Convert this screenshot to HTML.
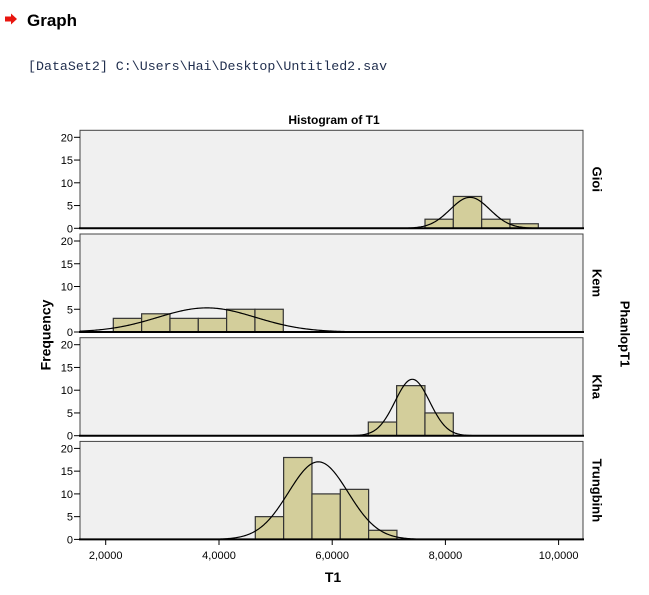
<!DOCTYPE html>
<html><head><meta charset="utf-8"><style>
html,body{margin:0;padding:0;background:#fff;width:649px;height:595px;overflow:hidden;font-family:"Liberation Sans",Arial,sans-serif}
</style></head><body>
<svg width="649" height="595" viewBox="0 0 649 595" xmlns="http://www.w3.org/2000/svg" style="position:absolute;left:0;top:0">
<polygon points="5,16.5 11,16.5 11,13.5 17,19 11,24.5 11,21.5 5,21.5" fill="#e8150f"/>
<text x="27" y="26" font-family="Liberation Sans,Arial,sans-serif" font-weight="bold" font-size="17" fill="#000">Graph</text>
<text x="28" y="70" font-family="Liberation Mono,Courier New,monospace" font-size="13.3" fill="#1f2d4d">[DataSet2] C:\Users\Hai\Desktop\Untitled2.sav</text>
<text x="334" y="124" text-anchor="middle" font-weight="bold" font-size="12" fill="#000">Histogram of T1</text>
<g id="panels"></g>
<text x="47" y="335" text-anchor="middle" font-weight="bold" font-size="14" transform="rotate(-90 47 335)" dominant-baseline="middle">Frequency</text>
<text x="624" y="334" text-anchor="middle" font-weight="bold" font-size="13" transform="rotate(90 624 334)" dominant-baseline="middle">PhanlopT1</text>
<text x="333" y="582" text-anchor="middle" font-weight="bold" font-size="14">T1</text>
</svg>
<script>
(function(){
var NS="http://www.w3.org/2000/svg";
var g=document.getElementById("panels");
function el(t,a,txt){var e=document.createElementNS(NS,t);for(var k in a)e.setAttribute(k,a[k]);if(txt!=null)e.textContent=txt;g.appendChild(e);return e;}
var L=80,R=583,S=4.55,W=28.33;
var panels=[
 {b:228.3,name:"Gioi",x0:425,h:[2,7,2,1],mu:470,pk:6.8,sd:19.9},
 {b:332,name:"Kem",x0:113.3,h:[3,4,3,3,5,5],mu:206.7,pk:5.3,sd:49},
 {b:435.7,name:"Kha",x0:368.3,h:[3,11,5],mu:412.3,pk:12.4,sd:17.3},
 {b:539.4,name:"Trungbinh",x0:255.3,h:[5,18,10,11,2],mu:318.3,pk:17.05,sd:29.8}
];
panels.forEach(function(p){
 var top=p.b-98;
 el("rect",{x:L,y:top,width:R-L,height:p.b-top,fill:"#f0f0f0",stroke:"#444","stroke-width":1});
 for(var i=0;i<p.h.length;i++){
  var hh=p.h[i]*S;
  el("rect",{x:p.x0+i*W,y:p.b-hh,width:W,height:hh,fill:"#d3ce9b",stroke:"#333","stroke-width":1.2});
 }
 var d="";
 for(var x=L;x<=R;x+=1){
  var z=(x-p.mu)/p.sd;var y=p.b-S*p.pk*Math.exp(-0.5*z*z);
  d+=(x==L?"M":"L")+x+","+y.toFixed(2);
 }
 el("path",{d:d,fill:"none",stroke:"#000","stroke-width":1.2});
 el("line",{x1:L-1,y1:p.b,x2:R+1,y2:p.b,stroke:"#000","stroke-width":2});
 for(var v=0;v<=20;v+=5){
  var yy=p.b-v*S;
  el("line",{x1:74,y1:yy,x2:L,y2:yy,stroke:"#000","stroke-width":1});
  el("text",{x:73,y:yy+4,"text-anchor":"end","font-size":11,fill:"#000"},String(v));
 }
 var cy=(top+p.b)/2;
 el("text",{x:596,y:cy,"text-anchor":"middle","font-weight":"bold","font-size":13,transform:"rotate(90 596 "+cy+")","dominant-baseline":"middle"},p.name);
});
var xs=[105.7,219,332.2,445.4,558.6],lab=["2,0000","4,0000","6,0000","8,0000","10,0000"];
for(var i=0;i<5;i++){
 el("line",{x1:xs[i],y1:539.4,x2:xs[i],y2:545,stroke:"#000","stroke-width":1});
 el("text",{x:xs[i],y:559,"text-anchor":"middle","font-size":11,fill:"#000"},lab[i]);
}
})();
</script>
</body></html>
